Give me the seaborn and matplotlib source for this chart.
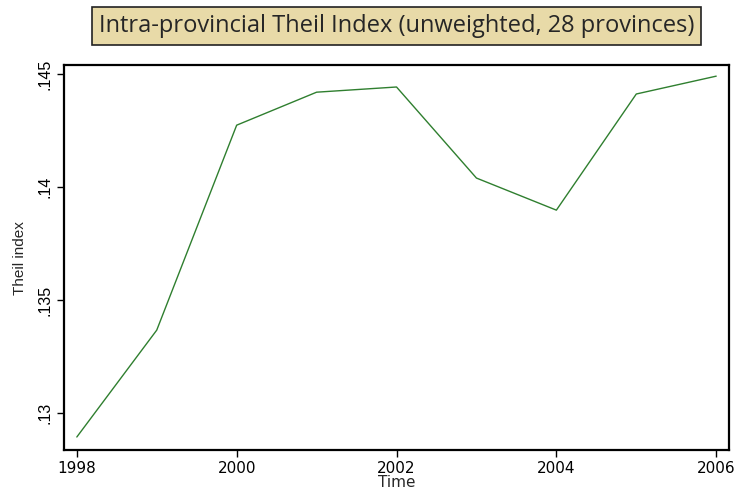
import pandas as pd
import matplotlib
matplotlib.use('Agg')
import matplotlib.pyplot as plt
import seaborn as sns

# values
years = [1998, 1999, 2000, 2001, 2002, 2003, 2004, 2005, 2006]
theil = [0.12894, 0.13367, 0.14274, 0.14420, 0.14443, 0.14040, 0.13898, 0.14412, 0.14491]
xticks = [1998, 2000, 2002, 2004, 2006]
yticks = [0.13, 0.135, 0.14, 0.145]
ytick_labels = ['.13', '.135', '.14', '.145']

data = pd.DataFrame({'Time': years, 'Theil index': theil})

sns.set_theme(style="ticks")
plt.rcParams['font.family'] = ['Liberation Sans', 'DejaVu Sans']

fig = plt.figure(figsize=(7.36, 4.93), dpi=100)
ax = fig.add_axes([0.087, 0.087, 0.9035, 0.781])

sns.lineplot(data=data, x='Time', y='Theil index', color='#2f7f2f', linewidth=1.0, ax=ax)

ax.set_xlim(1997.84, 2006.16)
ax.set_ylim(0.12836, 0.14540)
ax.set_xticks(xticks)
ax.set_xticklabels([str(x) for x in xticks], fontsize=11, family='DejaVu Sans')
ax.set_yticks(yticks)
ax.set_yticklabels(ytick_labels, rotation=90, va='center', fontsize=11.5)
ax.tick_params(direction='out', length=5, width=1, colors='black', pad=3)
ax.set_xlabel('Time', fontsize=11, labelpad=-1, family='DejaVu Sans')
ax.set_ylabel('Theil index', fontsize=11, labelpad=8)
for s in ax.spines.values():
    s.set_visible(True)
    s.set_linewidth(1.6)
    s.set_color('black')

fig.text(0.539, 0.948, 'Intra-provincial Theil Index (unweighted, 28 provinces)',
         ha='center', va='center', fontsize=17, family=['Open Sans', 'DejaVu Sans'],
         bbox=dict(boxstyle='square,pad=0.3', facecolor='#e8daa8', edgecolor='#222222', linewidth=1.2))

fig.savefig('out.png', dpi=100)
